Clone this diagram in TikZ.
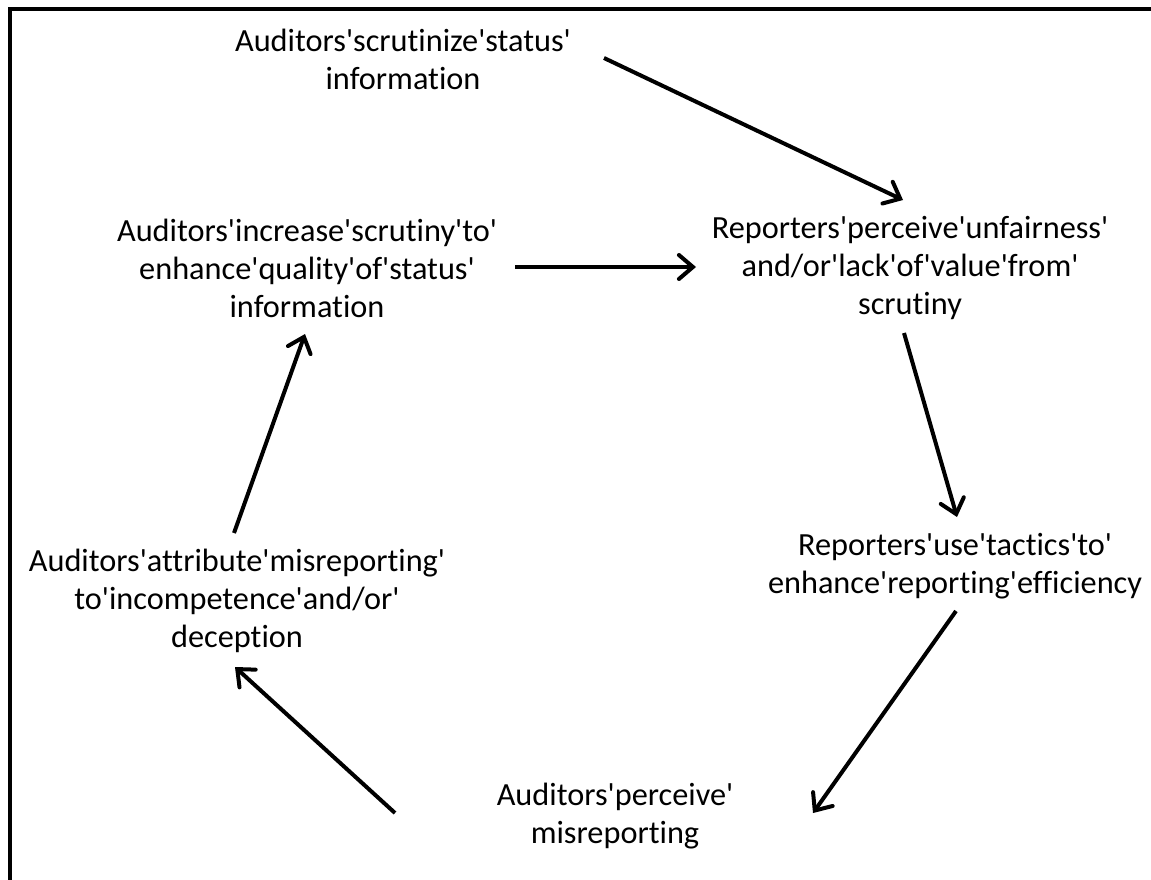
\documentclass[tikz,border=0pt]{standalone}
\usepackage{fontspec}
\setmainfont{Carlito}[Ligatures={TeXOff,NoCommon}]
\usetikzlibrary{arrows.meta}
\begin{document}
\begin{tikzpicture}[x=1pt,y=-1pt,
  lbl/.style={align=center,inner sep=0pt,font=\fontsize{32.3}{38}\selectfont},
  flow/.style={line width=4pt,-{Straight Barb[length=14pt,width=24pt,line cap=round]}}]
\useasboundingbox (0,0) rectangle (1151,880);
\draw[line width=4pt] (9.5,9.5) rectangle (1170,900);
\node[lbl] (A) at (403,59) {Auditors'scrutinize'status'\\information};
\node[lbl] (B) at (307,268) {Auditors'increase'scrutiny'to'\\enhance'quality'of'status'\\information};
\node[lbl] (C) at (910,268) {Reporters'perceive'unfairness'\\and/or'lack'of'value'from'\\scrutiny};
\node[lbl] (D) at (955,566) {Reporters'use'tactics'to'\\enhance'reporting'efficiency};
\node[lbl] (E) at (237,601) {Auditors'attribute'misreporting'\\to'incompetence'and/or'\\deception};
\node[lbl] (F) at (615,816) {Auditors'perceive'\\misreporting};
\coordinate (a1s) at (604,58);  \coordinate (a1e) at (903,200);
\coordinate (a2s) at (515,267); \coordinate (a2e) at (696,267);
\coordinate (a3s) at (904,333); \coordinate (a3e) at (957,517);
\coordinate (a4s) at (956,611); \coordinate (a4e) at (813,813);
\coordinate (a5s) at (395,813); \coordinate (a5e) at (235,667);
\coordinate (a6s) at (234,533); \coordinate (a6e) at (305,334);
\draw[flow] (a1s) -- (a1e);
\draw[flow] (a2s) -- (a2e);
\draw[flow] (a3s) -- (a3e);
\draw[flow] (a4s) -- (a4e);
\draw[flow] (a5s) -- (a5e);
\draw[flow] (a6s) -- (a6e);
\end{tikzpicture}
\end{document}
